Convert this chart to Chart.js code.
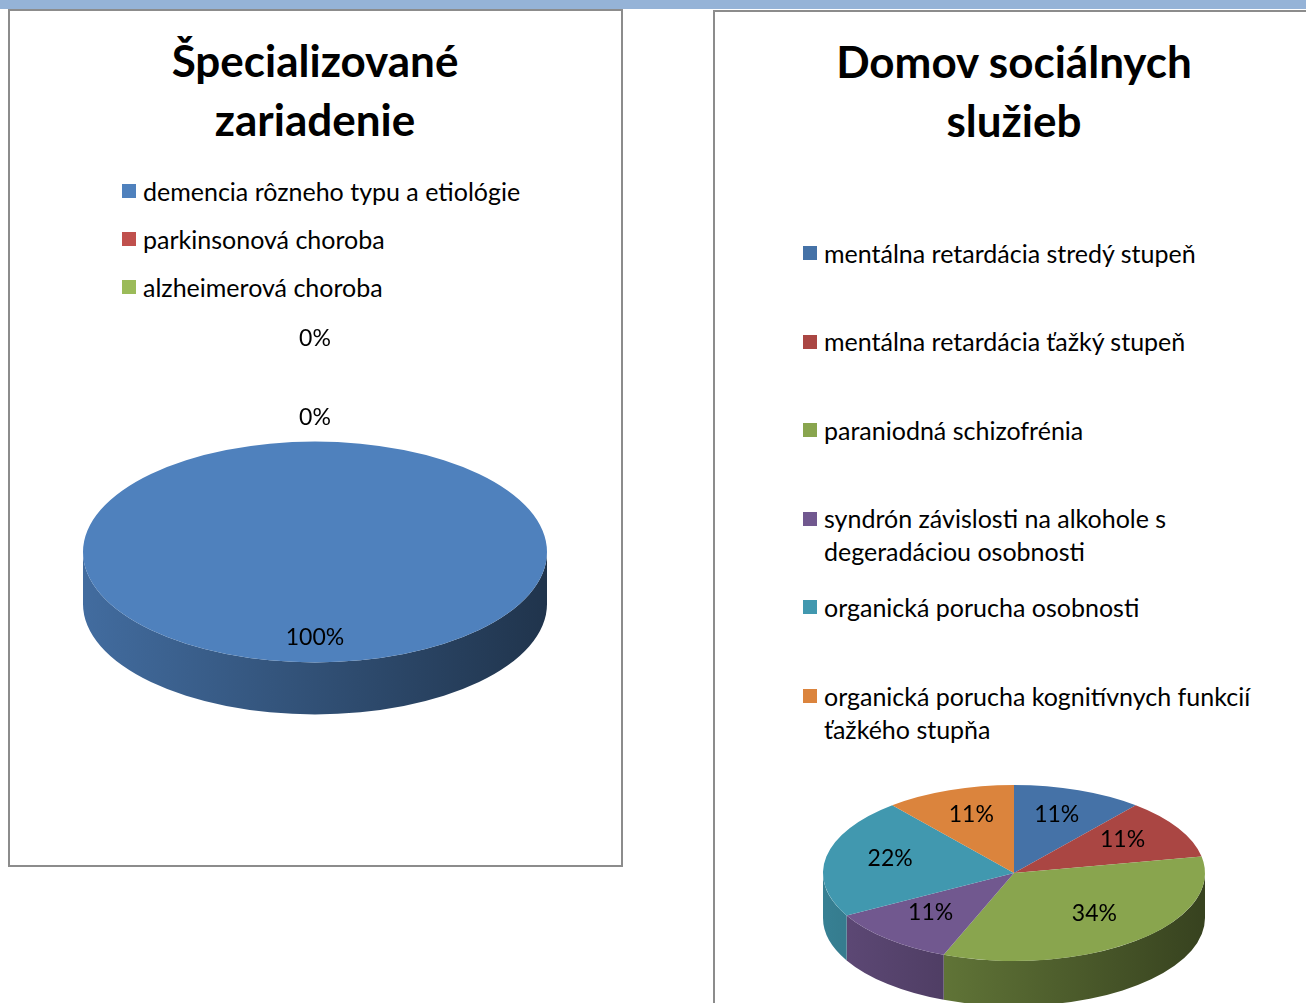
<!DOCTYPE html>
<html>
<head>
<meta charset="utf-8">
<script src="https://cdn.jsdelivr.net/npm/chart.js@4/dist/chart.umd.min.js"></script>
<style>
  html, body { margin: 0; padding: 0; background: #fff; overflow: hidden; }
  body { width: 1306px; height: 1003px; position: relative; font-family: Lato, "Noto Sans", sans-serif; color: #000; }
  .strip { position: absolute; left: 0; top: 0; width: 1306px; height: 9px; background: #95b3d7; }
  .panel { position: absolute; border: 2px solid #8c8c8c; box-sizing: border-box; background: #fff; }
  .title { position: absolute; text-align: center; font-weight: bold; font-size: 44px; line-height: 59px; }
  .leg { position: absolute; font-size: 25px; }
  .leg .item { position: absolute; left: 0; display: flex; align-items: flex-start; }
  .leg .sw { width: 14px; height: 14px; flex: none; margin-right: 7px; }
  canvas { position: absolute; }
</style>
</head>
<body>
<div class="strip"></div>
<div class="panel" style="left:8px; top:9px; width:615px; height:858px;"></div>
<div class="panel" style="left:713px; top:10px; width:700px; height:1100px;"></div>

<div class="title" id="t1" style="left:15px; top:31px; width:600px;"></div>
<div class="title" id="t2" style="left:714px; top:32px; width:600px;"></div>
<div class="leg" id="leg1" style="left:122px; top:0;"></div>
<div class="leg" id="leg2" style="left:803px; top:0;"></div>

<canvas id="pie1" width="500" height="500" style="left:65px; top:302px;"></canvas>
<canvas id="pie2" width="420" height="420" style="left:804px; top:663px;"></canvas>

<script>
// údaje – Špecializované zariadenie
const leftTitle = ["Špecializované", "zariadenie"];
const leftLabels = ["demencia rôzneho typu a etiológie", "parkinsonová choroba", "alzheimerová choroba"];
const leftValues = [100, 0, 0];
const leftColors = ["#4f81bd", "#c0504d", "#9bbb59"];

// údaje – Domov sociálnych služieb
const rightTitle = ["Domov sociálnych", "služieb"];
const rightLabels = [
  "mentálna retardácia stredý stupeň",
  "mentálna retardácia ťažký stupeň",
  "paraniodná schizofrénia",
  "syndrón závislosti na alkohole s degeradáciou osobnosti",
  "organická porucha osobnosti",
  "organická porucha kognitívnych funkcií ťažkého stupňa"
];
const rightValues = [11, 11, 34, 11, 22, 11];
const rightColors = ["#4572a7", "#aa4643", "#89a54e", "#71588f", "#4198af", "#db843d"];

// nadpisy
document.getElementById("t1").innerHTML = leftTitle.join("<br>");
document.getElementById("t2").innerHTML = rightTitle.join("<br>");

// legenda (HTML)
function buildLegend(el, labels, colors, firstCenter, step, lineH, width) {
  labels.forEach((txt, i) => {
    const item = document.createElement("div");
    item.className = "item";
    item.style.top = (firstCenter - lineH / 2 + i * step) + "px";
    const sw = document.createElement("span");
    sw.className = "sw";
    sw.style.background = colors[i];
    sw.style.marginTop = ((lineH - 14) / 2) + "px";
    const t = document.createElement("span");
    t.textContent = txt;
    t.style.lineHeight = lineH + "px";
    t.style.width = width + "px";
    item.appendChild(sw);
    item.appendChild(t);
    el.appendChild(item);
  });
}
buildLegend(document.getElementById("leg1"), leftLabels, leftColors, 191, 48, 33, 470);
buildLegend(document.getElementById("leg2"), rightLabels, rightColors, 253, 88.6, 33, 445);

function shade(hex, f) {
  const n = parseInt(hex.slice(1), 16);
  const r = Math.round(((n >> 16) & 255) * f);
  const g = Math.round(((n >> 8) & 255) * f);
  const b = Math.round((n & 255) * f);
  return `rgb(${r},${g},${b})`;
}

// 3D efekt: stlačenie koláča do elipsy + bočná stena
const pie3d = {
  id: "pie3d",
  beforeDatasetsDraw(chart, args, opts) {
    const ctx = chart.ctx;
    const meta = chart.getDatasetMeta(0);
    const k = opts.squash, depth = opts.depth;
    const colors = chart.data.datasets[0].backgroundColor;
    meta.data.forEach((arc, i) => {
      const s = Math.max(arc.startAngle, 0);
      const e = Math.min(arc.endAngle, Math.PI);
      if (e <= s) return;
      const r = arc.outerRadius;
      const g = ctx.createLinearGradient(arc.x - r, 0, arc.x + r, 0);
      g.addColorStop(0, shade(colors[i], 0.84));
      g.addColorStop(1, shade(colors[i], 0.4));
      ctx.save();
      ctx.beginPath();
      ctx.ellipse(arc.x, arc.y, r, r * k, 0, s, e, false);
      ctx.ellipse(arc.x, arc.y + depth, r, r * k, 0, e, s, true);
      ctx.closePath();
      ctx.fillStyle = g;
      ctx.fill();
      ctx.restore();
    });
  },
  beforeDatasetDraw(chart, args, opts) {
    const ctx = chart.ctx;
    const a = chart.getDatasetMeta(0).data[0];
    ctx.save();
    ctx.translate(a.x, a.y);
    ctx.scale(1, opts.squash);
    ctx.translate(-a.x, -a.y);
  },
  afterDatasetDraw(chart) {
    chart.ctx.restore();
  },
  afterDraw(chart, args, opts) {
    const ctx = chart.ctx;
    const meta = chart.getDatasetMeta(0);
    const vals = chart.data.datasets[0].data;
    const total = vals.reduce((p, c) => p + c, 0);
    let zero = 0;
    ctx.save();
    ctx.font = "23px Lato, 'Noto Sans', sans-serif";
    ctx.fillStyle = "#000";
    ctx.textAlign = "center";
    ctx.textBaseline = "middle";
    meta.data.forEach((arc, i) => {
      const mid = (arc.startAngle + arc.endAngle) / 2;
      let f = opts.labelPos;
      if (vals[i] === 0) { f = 1.23 + 0.71 * zero; zero++; }
      const x = arc.x + Math.cos(mid) * arc.outerRadius * f;
      const y = arc.y + Math.sin(mid) * arc.outerRadius * opts.squash * f + opts.labelDy;
      ctx.fillText(Math.round(vals[i] / total * 100) + "%", x, y);
    });
    ctx.restore();
  }
};

function makePie(id, labels, values, colors, radius, squash, depth, labelPos, labelDy) {
  return new Chart(document.getElementById(id), {
    type: "pie",
    data: {
      labels: labels,
      datasets: [{
        data: values,
        backgroundColor: colors,
        borderWidth: 0,
        radius: radius
      }]
    },
    options: {
      responsive: false,
      animation: false,
      events: [],
      layout: { padding: 0 },
      plugins: {
        legend: { display: false },
        tooltip: { enabled: false },
        pie3d: { squash: squash, depth: depth, labelPos: labelPos, labelDy: labelDy }
      }
    },
    plugins: [pie3d]
  });
}

makePie("pie1", leftLabels, leftValues, leftColors, 232, 0.476, 52, 0.77, 1);
makePie("pie2", rightLabels, rightValues, rightColors, 191, 0.461, 45, 0.66, -4);
</script>
</body>
</html>
